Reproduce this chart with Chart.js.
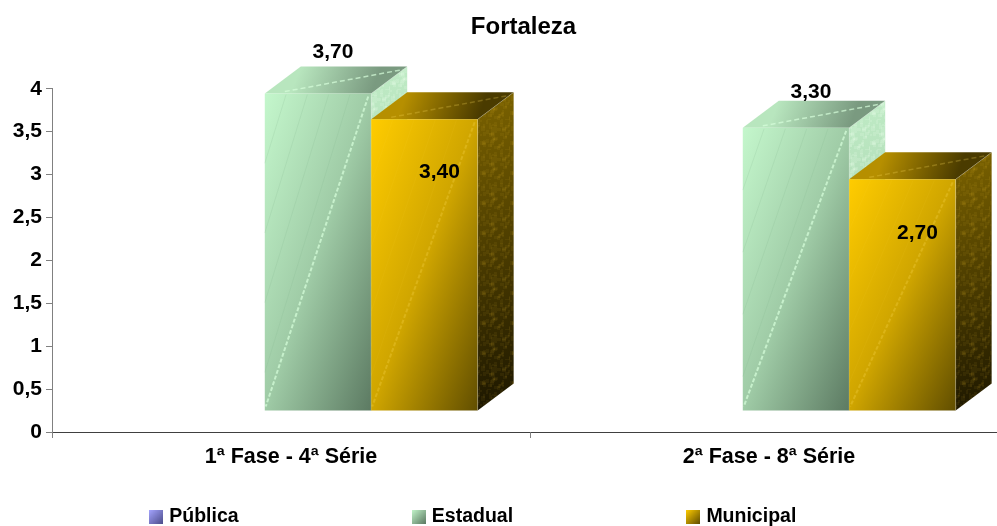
<!DOCTYPE html>
<html>
<head>
<meta charset="utf-8">
<title>Fortaleza</title>
<script src="https://cdn.jsdelivr.net/npm/chart.js@4"></script>
<style>
    html, body { margin: 0; padding: 0; background: #fff; overflow: hidden; width: 997px; height: 526px; }
    /* the axis runs past the right edge of the picture, so the canvas is a bit wider */
    canvas { display: block; }
</style>
</head>
<body>
<canvas id="chart" width="1010" height="526"></canvas>
<script>
const categories = ['1ª Fase - 4ª Série', '2ª Fase - 8ª Série'];
const seriesNames = ['Pública', 'Estadual', 'Municipal'];
const publica = [null, null];
const estadual = [3.7, 3.3];
const municipal = [3.4, 2.7];
const yTicks = [0, 0.5, 1, 1.5, 2, 2.5, 3, 3.5, 4];

const FONT = '"Liberation Sans", Arial, sans-serif';
const TEXT = '#000000';

// fake 3D: front face moved off the axis, depth goes up and right
const SHIFT_X = 27, SHIFT_Y = -21;
const DEPTH_X = 36, DEPTH_Y = -27;

const palette = {
    1: { tl: '#c4f7cc', mid: '#9fcba6', br: '#5c7a62', top0: '#b8e6be', top1: '#7a9a80', side0: '#c0ecc6', side1: '#93bc9a', streak: 'rgba(215,255,220,0.7)', hair: 'rgba(130,180,140,0.18)', speck: [235, 255, 238, 0.16] },
    2: { tl: '#ffcc00', mid: '#cfa500', br: '#614e00', top0: '#b68f00', top1: '#4a3b00', side0: '#7c6300', side1: '#181300', streak: 'rgba(255,225,90,0.25)', hair: 'rgba(255,220,80,0.06)', speck: [255, 205, 50, 0.06] }
};
const labelOffsets = { 1: [-41, -36], 2: [53, 54] };
const labelNudgeX = 15;

function swatch(c0, c1) {
    const c = document.createElement('canvas');
    c.width = 14; c.height = 14;
    const g = c.getContext('2d');
    const grad = g.createLinearGradient(0, 0, 14, 14);
    grad.addColorStop(0, c0);
    grad.addColorStop(1, c1);
    g.fillStyle = grad;
    g.fillRect(0, 0, 14, 14);
    return c;
}
const swatches = [swatch('#a5a5ff', '#4c4c8a'), swatch('#c4f7cc', '#5c7a62'), swatch('#ffcc00', '#5e4b00')];

// mottled look of the side faces, a fixed tile with overlapping soft blobs
function speckle(rgba) {
    const c = document.createElement('canvas');
    c.width = 30; c.height = 30;
    const g = c.getContext('2d');
    g.fillStyle = 'rgba(' + rgba.join(',') + ')';
    for (let n = 0; n < 70; n++) {
        const x = (n * 17 + (n * n) % 13) % 30;
        const y = (n * 23 + (n * n * n) % 11) % 30;
        g.fillRect(x, y, 2 + n % 3, 2 + (n * 5) % 3);
    }
    return c;
}

function face(ctx, pts, fill) {
    ctx.beginPath();
    pts.forEach((p, i) => i ? ctx.lineTo(p[0], p[1]) : ctx.moveTo(p[0], p[1]));
    ctx.closePath();
    ctx.fillStyle = fill;
    ctx.fill();
}

// gradient from the top left corner with the other two corners at the middle stop
function cornerGradient(ctx, x, y, w, h, c0, c1, c2) {
    const k = 2 * w * h / (w * w + h * h);
    const g = ctx.createLinearGradient(x, y, x + k * h, y + k * w);
    g.addColorStop(0, c0);
    g.addColorStop(0.5, c1);
    g.addColorStop(1, c2);
    return g;
}

function streak(ctx, x0, y0, x1, y1, color, width, dash) {
    ctx.save();
    ctx.strokeStyle = color;
    ctx.lineWidth = width;
    ctx.setLineDash(dash);
    ctx.beginPath();
    ctx.moveTo(x0, y0);
    ctx.lineTo(x1, y1);
    ctx.stroke();
    ctx.restore();
}

const bars3d = {
    id: 'bars3d',
    beforeLayout(chart) {
        // labels.padding is only there for the gap between legend items, keep it out of the height
        const legend = chart.legend;
        if (!legend._wrapped) {
            const fit = legend.fit;
            legend.fit = function () { fit.call(this); this.height = 40; };
            legend._wrapped = true;
        }
    },
    afterLayout(chart) {
        const pad = chart.options.plugins.legend.labels.padding;
        chart.titleBlock.left = 39;
        chart.legend.left = 152.5 - pad;
        chart.legend.top = 516 - pad - 9;
    },
    afterDatasetsDraw(chart) {
        const ctx = chart.ctx;
        [1, 2].forEach(d => {
            const colors = palette[d];
            const tile = ctx.createPattern(speckle(colors.speck), 'repeat');
            chart.getDatasetMeta(d).data.forEach(bar => {
                const p = bar.getProps(['x', 'y', 'base', 'width'], true);
                const l = p.x - p.width / 2 + SHIFT_X, r = p.x + p.width / 2 + SHIFT_X;
                const t = p.y + SHIFT_Y, b = p.base + SHIFT_Y;
                const w = r - l, h = b - t;

                // side
                const sidePts = [[r, t], [r + DEPTH_X, t + DEPTH_Y], [r + DEPTH_X, b + DEPTH_Y], [r, b]];
                const side = ctx.createLinearGradient(r, t + DEPTH_Y, r + DEPTH_X * 2, b);
                side.addColorStop(0, colors.side0);
                side.addColorStop(1, colors.side1);
                face(ctx, sidePts, side);
                face(ctx, sidePts, tile);

                // top
                const top = ctx.createLinearGradient(l + DEPTH_X, t + DEPTH_Y, r, t);
                top.addColorStop(0, colors.top0);
                top.addColorStop(1, colors.top1);
                face(ctx, [[l, t], [l + DEPTH_X, t + DEPTH_Y], [r + DEPTH_X, t + DEPTH_Y], [r, t]], top);

                // front
                face(ctx, [[l, t], [r, t], [r, b], [l, b]], cornerGradient(ctx, l, t, w, h, colors.tl, colors.mid, colors.br));

                // faint hairlines and the dashed diagonal of the texture
                for (let n = 1; n <= 4; n++) {
                    streak(ctx, l + w * n * 0.2, t + 1, l, t + h * n * 0.22, colors.hair, 1, []);
                }
                streak(ctx, r - 3, t + 3, l + 1, b - 4, colors.streak, 2, [4, 2]);
                streak(ctx, l + 20, t - 2, r + DEPTH_X - 4, t + DEPTH_Y + 3, colors.streak, 1.5, [5, 3]);

                // thin light edge where the faces meet
                ctx.strokeStyle = 'rgba(255,255,255,0.2)';
                ctx.lineWidth = 1;
                ctx.beginPath();
                ctx.moveTo(r, b); ctx.lineTo(r, t); ctx.lineTo(r + DEPTH_X, t + DEPTH_Y);
                ctx.stroke();
            });
        });

        // value labels go on top of every face
        ctx.save();
        ctx.font = 'bold 21px ' + FONT;
        ctx.fillStyle = TEXT;
        ctx.textAlign = 'center';
        ctx.textBaseline = 'middle';
        [1, 2].forEach(d => {
            chart.getDatasetMeta(d).data.forEach((bar, i) => {
                const p = bar.getProps(['x', 'y'], true);
                const v = chart.data.datasets[d].data[i];
                ctx.fillText(v.toFixed(2).replace('.', ','), p.x + SHIFT_X + labelNudgeX, p.y + SHIFT_Y + labelOffsets[d][i]);
            });
        });
        ctx.restore();
    }
};

new Chart(document.getElementById('chart'), {
    type: 'bar',
    data: {
        labels: categories,
        datasets: [
            { label: seriesNames[0], data: publica, backgroundColor: 'transparent' },
            { label: seriesNames[1], data: estadual, backgroundColor: 'transparent' },
            { label: seriesNames[2], data: municipal, backgroundColor: 'transparent' }
        ]
    },
    options: {
        responsive: false,
        animation: false,
        layout: { padding: { right: 2 } },
        datasets: { bar: { categoryPercentage: 0.668, barPercentage: 1 } },
        scales: {
            x: {
                grid: { drawOnChartArea: false, tickLength: 6, tickColor: '#808080' },
                border: { color: '#404040', width: 1 },
                ticks: { color: TEXT, font: { family: FONT, size: 21.5, weight: 'bold' }, padding: 6, maxRotation: 0 },
                afterFit(axis) { axis.height = 54; }
            },
            y: {
                min: 0,
                max: 4,
                afterBuildTicks(axis) { axis.ticks = yTicks.map(v => ({ value: v })); },
                grid: { drawOnChartArea: false, tickLength: 6, tickColor: '#808080' },
                border: { color: '#808080', width: 1 },
                ticks: {
                    color: TEXT,
                    font: { family: FONT, size: 21, weight: 'bold' },
                    padding: 4,
                    callback: v => String(v).replace('.', ',')
                },
                afterFit(axis) { axis.width = 52; }
            }
        },
        plugins: {
            title: {
                display: true,
                text: 'Fortaleza',
                color: TEXT,
                font: { family: FONT, size: 24, weight: 'bold' },
                padding: { top: 13, bottom: 47 }
            },
            legend: {
                position: 'bottom',
                align: 'start',
                labels: {
                    color: TEXT,
                    font: { family: FONT, size: 19.5, weight: 'bold' },
                    padding: 176.5,
                    usePointStyle: true,
                    pointStyleWidth: 7,
                    generateLabels: chart => chart.data.datasets.map((ds, i) => ({
                        text: ds.label,
                        pointStyle: swatches[i],
                        fillStyle: 'transparent',
                        strokeStyle: 'transparent',
                        lineWidth: 0,
                        datasetIndex: i
                    }))
                }
            },
            tooltip: { enabled: false }
        }
    },
    plugins: [bars3d]
});
</script>
</body>
</html>
